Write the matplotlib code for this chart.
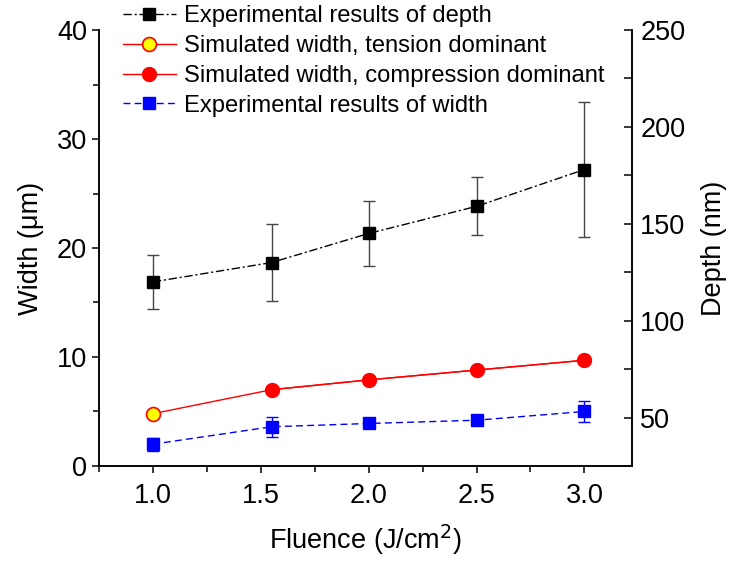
import matplotlib.pyplot as plt
from matplotlib.ticker import MultipleLocator

plt.rcParams['font.family'] = ['Liberation Sans', 'DejaVu Sans']

fluence = [1.0, 1.55, 2.0, 2.5, 3.0]

depth = [120, 130, 145, 159, 178]
depth_err = [14, 20, 17, 15, 35]

tension_x = [1.0]
tension_width = [4.8]

compression_x = [1.55, 2.0, 2.5, 3.0]
compression_width = [7.0, 7.9, 8.8, 9.7]

width = [2.0, 3.6, 3.9, 4.2, 5.0]
width_err = [0.6, 0.9, 0.3, 0.3, 1.0]

fig = plt.figure(figsize=(7.33, 5.63), dpi=100)
ax = fig.add_axes([0.135, 0.1723, 0.727, 0.7744])
ax2 = ax.twinx()

# simulated width curve joins the tension point to the compression points
ax.plot(tension_x + compression_x, tension_width + compression_width,
        color='red', lw=1, zorder=2)
h_tension, = ax.plot(tension_x, tension_width, color='red', lw=1, marker='o',
                     ms=10, mfc='yellow', mec='red', mew=1.2, zorder=3)
h_compression, = ax.plot(compression_x, compression_width, color='red', lw=1,
                         marker='o', ms=10, mfc='red', mec='red', zorder=3)
h_width = ax.errorbar(fluence, width, yerr=width_err, color='blue', lw=1,
                      ls=(0, (5, 3)), marker='s', ms=9, capsize=4,
                      elinewidth=1, capthick=1, zorder=3)

h_depth = ax2.errorbar(fluence, depth, yerr=depth_err, color='black', lw=1,
                       ls=(0, (6, 2, 1.5, 2)), marker='s', ms=9, capsize=4,
                       ecolor='#444444', elinewidth=1, capthick=1, zorder=3)

ax.set_xlim(0.75, 3.22)
ax.set_ylim(0, 40)
ax2.set_ylim(25, 250)

ax.xaxis.set_major_locator(MultipleLocator(0.5))
ax.xaxis.set_minor_locator(MultipleLocator(0.25))
ax.yaxis.set_major_locator(MultipleLocator(10))
ax.yaxis.set_minor_locator(MultipleLocator(5))
ax2.yaxis.set_major_locator(MultipleLocator(50))
ax2.yaxis.set_minor_locator(MultipleLocator(25))

ax.spines['top'].set_visible(False)
ax2.spines['top'].set_visible(False)
for sp in list(ax.spines.values()) + list(ax2.spines.values()):
    sp.set_linewidth(1.1)

ax.tick_params(axis='both', which='major', direction='out', length=5,
               width=1.1, labelsize=19.5)
ax.tick_params(axis='x', which='major', pad=7)
ax.tick_params(axis='both', which='minor', direction='out', length=4,
               width=1.1)
ax2.tick_params(axis='y', which='major', direction='in', length=6, width=1.1,
                labelsize=19.5, pad=6)
ax2.tick_params(axis='y', which='minor', direction='in', length=6, width=1.1)

ax.set_xlabel('Fluence (J/cm$^2$)', fontsize=19.5, labelpad=10)
ax.set_ylabel('Width (\u03bcm)', fontsize=19.5, labelpad=9)
ax2.set_ylabel('Depth (nm)', fontsize=19.5, labelpad=11)

fig.legend([h_depth.lines[0], h_tension, h_compression, h_width.lines[0]],
           ['Experimental results of depth',
            'Simulated width, tension dominant',
            'Simulated width, compression dominant',
            'Experimental results of width'],
           loc='upper left', bbox_to_anchor=(0.165, 0.995), frameon=False,
           fontsize=17.1, handlelength=2.2, handletextpad=0.35,
           labelspacing=0.33, borderpad=0.1, borderaxespad=0)

fig.savefig('out.png', dpi=100)
